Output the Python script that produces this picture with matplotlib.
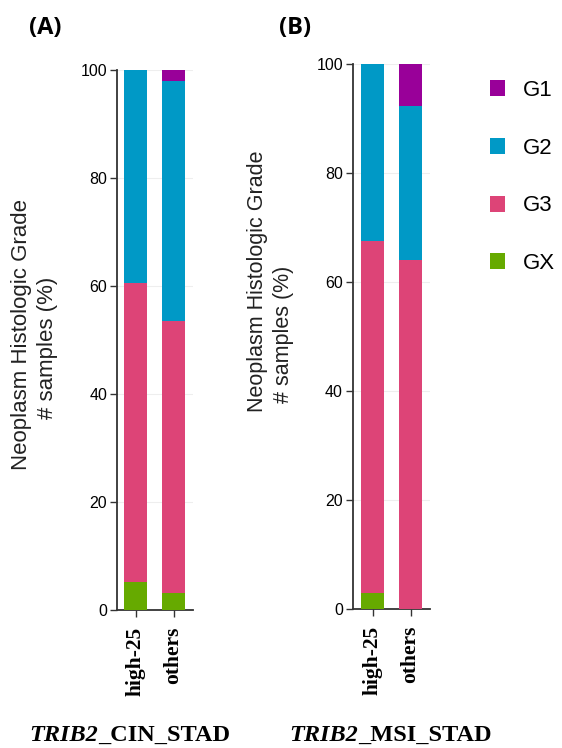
import matplotlib.pyplot as plt
from matplotlib.patches import Patch

# Histologic grade composition (% of samples)
groups = ['high-25', 'others']
grades = ['G1', 'G2', 'G3', 'GX']
grade_colors = {'G1': '#990099', 'G2': '#0099C6', 'G3': '#DD4477', 'GX': '#66AA00'}

# panel A: TRIB2_CIN_STAD
cin_g1 = [0.0, 2.1]
cin_g2 = [39.5, 44.4]
cin_g3 = [55.3, 50.3]
cin_gx = [5.2, 3.2]

# panel B: TRIB2_MSI_STAD
msi_g1 = [0.0, 7.7]
msi_g2 = [32.4, 28.2]
msi_g3 = [64.7, 64.1]
msi_gx = [2.9, 0.0]

W, H = 562, 748
fig = plt.figure(figsize=(W / 100, H / 100), dpi=100)


def px_axes(left, right, top, bottom):
    return fig.add_axes([left / W, 1 - bottom / H, (right - left) / W, (bottom - top) / H])


def stacked(ax, g1, g2, g3, gx, xleft):
    x = range(len(groups))
    bottom = [0.0] * len(groups)
    for name, vals in [('GX', gx), ('G3', g3), ('G2', g2), ('G1', g1)]:
        ax.bar(x, vals, bottom=bottom, width=0.605, color=grade_colors[name], zorder=3)
        bottom = [b + v for b, v in zip(bottom, vals)]
    ax.set_xlim(xleft, 1.513)
    ax.set_ylim(0, 100)
    ax.set_yticks([0, 20, 40, 60, 80, 100])
    ax.set_xticks(list(x))
    ax.set_xticklabels(groups, rotation=90, family='Liberation Serif',
                       fontweight='bold', fontsize=15.5)
    for lab in ax.get_yticklabels():
        lab.set_family('Liberation Sans')
        lab.set_fontsize(11.5)
    ax.spines['top'].set_visible(False)
    ax.spines['right'].set_visible(False)
    for s in ['left', 'bottom']:
        ax.spines[s].set_color('#333333')
        ax.spines[s].set_linewidth(1.3)
    ax.tick_params(axis='y', length=5, width=1, pad=2, color='#333333')
    ax.tick_params(axis='x', length=5, width=1, pad=7, color='#333333')
    ax.grid(axis='y', color='#eeeeee', lw=0.8, zorder=0)
    ax.set_facecolor('none')


axA = px_axes(117, 193, 70, 610)
stacked(axA, cin_g1, cin_g2, cin_g3, cin_gx, -0.487)
axB = px_axes(352.7, 430, 64, 609.3)
stacked(axB, msi_g1, msi_g2, msi_g3, msi_gx, -0.521)

# y labels, placed line by line
fig.text(22 / W, 1 - 334 / H, 'Neoplasm Histologic Grade', rotation=90, ha='center', va='center',
         family='Liberation Sans', fontsize=16, color='#222222')
fig.text(48 / W, 1 - 348 / H, '# samples (%)', rotation=90, ha='center', va='center',
         family='Liberation Sans', fontsize=16, color='#222222')
fig.text(258 / W, 1 - 281 / H, 'Neoplasm Histologic Grade', rotation=90, ha='center', va='center',
         family='Liberation Sans', fontsize=15.5, color='#222222')
fig.text(283 / W, 1 - 334 / H, '# samples (%)', rotation=90, ha='center', va='center',
         family='Liberation Sans', fontsize=15.5, color='#222222')

# panel letters
fig.text(45 / W, 1 - 28 / H, '(A)', ha='center', va='center', family='Open Sans',
         fontweight='bold', fontsize=17)
fig.text(295 / W, 1 - 28 / H, '(B)', ha='center', va='center', family='Open Sans',
         fontweight='bold', fontsize=17)

# bottom titles: italic gene name + bold rest
for xsplit, rest in [(98, '_CIN_STAD'), (358, '_MSI_STAD')]:
    fig.text(xsplit / W, 1 - 741 / H, 'TRIB2', ha='right', va='baseline', family='Liberation Serif',
             fontweight='bold', fontstyle='italic', fontsize=17.5)
    fig.text(xsplit / W, 1 - 741 / H, rest, ha='left', va='baseline', family='Liberation Serif',
             fontweight='bold', fontsize=17.5)

handles = [Patch(facecolor=grade_colors[g], edgecolor='none', label=g) for g in grades]
fig.legend(handles=handles, loc='upper left', bbox_to_anchor=(470 / W, 1 - 60 / H),
           frameon=False, prop={'family': 'Liberation Sans', 'size': 16},
           handlelength=0.68, handleheight=0.73, handletextpad=0.8, labelspacing=1.65)

fig.savefig('out.png', dpi=100)
